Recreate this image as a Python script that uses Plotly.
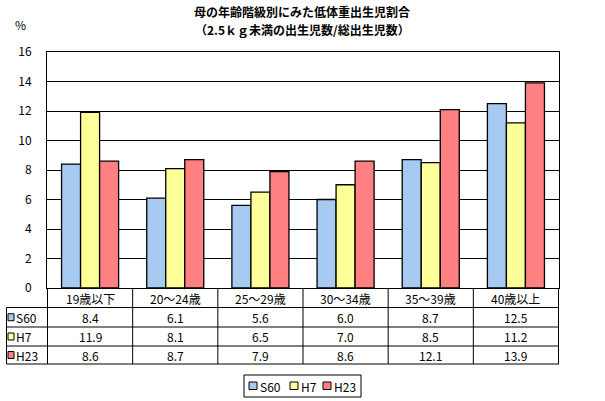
import plotly.graph_objects as go

categories = ["19歳以下", "20～24歳", "25～29歳", "30～34歳", "35～39歳", "40歳以上"]
series_names = ["S60", "H7", "H23"]
s60 = [8.4, 6.1, 5.6, 6.0, 8.7, 12.5]
h7 = [11.9, 8.1, 6.5, 7.0, 8.5, 11.2]
h23 = [8.6, 8.7, 7.9, 8.6, 12.1, 13.9]
colors = ["#A6CAF0", "#FFFF99", "#FF8080"]
y_ticks = [0, 2, 4, 6, 8, 10, 12, 14, 16]
title_lines = ["母の年齢階級別にみた低体重出生児割合", "（2.5ｋｇ未満の出生児数/総出生児数）"]

FONT = "Noto Sans CJK JP"
W, H = 605, 401
# plot area in page pixels
L, R, T, B = 47, 559, 52, 288

def py(p):
    return (B - p) / (B - T)

def px(p):
    return (p - L) / (R - L)

def txt(s, x, y, xref="paper", xanchor="center", bold=False, size=12):
    return dict(x=x, y=y, xref=xref, yref="paper", text=f"<b>{s}</b>" if bold else s,
                showarrow=False, xanchor=xanchor, yanchor="middle", borderpad=0,
                font=dict(family=FONT, size=size, color="black"))

series = [s60, h7, h23]
fig = go.Figure()
for name, vals, col in zip(series_names, series, colors):
    fig.add_trace(go.Bar(x=categories, y=vals, name=name, showlegend=False,
                         marker=dict(color=col, line=dict(color="black", width=1.3))))

shapes = []
annotations = []
line = dict(color="black", width=1)
row_lines = [307.5, 327, 346, 364]
n = len(categories)
for yl in row_lines:
    shapes.append(dict(type="line", xref="paper", yref="paper",
                       x0=px(6.5), x1=1, y0=py(yl), y1=py(yl), line=line))
for k in range(n + 1):
    shapes.append(dict(type="line", xref="x", yref="paper",
                       x0=k - 0.5, x1=k - 0.5, y0=0, y1=py(364), line=line))
shapes.append(dict(type="line", xref="paper", yref="paper",
                   x0=px(6.5), x1=px(6.5), y0=py(307.5), y1=py(364), line=line))
for cat in categories:
    annotations.append(txt(cat, cat, py(298), xref="x"))
for r, (name, vals, col) in enumerate(zip(series_names, series, colors)):
    top, bot = row_lines[r], row_lines[r + 1]
    mid = (top + bot) / 2
    shapes.append(dict(type="rect", xref="paper", yref="paper",
                       x0=px(8), x1=px(14), y0=py(mid + 3.5), y1=py(mid - 3.5),
                       fillcolor=col, line=dict(color="black", width=1)))
    annotations.append(txt(name, px(14.5), py(mid), xanchor="left"))
    for cat, v in zip(categories, vals):
        annotations.append(txt(f"{v:.1f}", cat, py(mid), xref="x"))

annotations.append(txt("%", px(20), py(24)))
for tl, yy in zip(title_lines, [11.5, 29.5]):
    annotations.append(txt(tl, px(302), py(yy), bold=True))

# manual legend
shapes.append(dict(type="rect", xref="paper", yref="paper",
                   x0=px(244), x1=px(361), y0=py(397), y1=py(375),
                   fillcolor="white", line=line))
leg_x = [249, 290, 323]
for name, col, lx in zip(series_names, colors, leg_x):
    shapes.append(dict(type="rect", xref="paper", yref="paper",
                       x0=px(lx), x1=px(lx + 8), y0=py(389.5), y1=py(382),
                       fillcolor=col, line=line))
    annotations.append(txt(name, px(lx + 10), py(386), xanchor="left"))

fig.update_layout(
    width=W, height=H,
    margin=dict(l=L, r=W - R, t=T, b=H - B, autoexpand=False),
    paper_bgcolor="white", plot_bgcolor="white",
    barmode="group", bargap=0.33, bargroupgap=0,
    showlegend=False,
    xaxis=dict(showticklabels=False, showline=True, linecolor="black",
               mirror=True, ticks="", linewidth=1, automargin=False),
    yaxis=dict(range=[0, 16], tickvals=y_ticks, showgrid=True,
               gridcolor="black", gridwidth=1, showline=True,
               linecolor="black", mirror=True, linewidth=1, zeroline=False,
               ticks="", ticklen=0, automargin=False, ticklabelstandoff=12,
               tickfont=dict(family=FONT, size=12, color="black")),
    shapes=shapes, annotations=annotations,
    font=dict(family=FONT),
)

fig.write_html("out.html", config={"displayModeBar": False},
               post_script="document.body.style.margin='0px';")
